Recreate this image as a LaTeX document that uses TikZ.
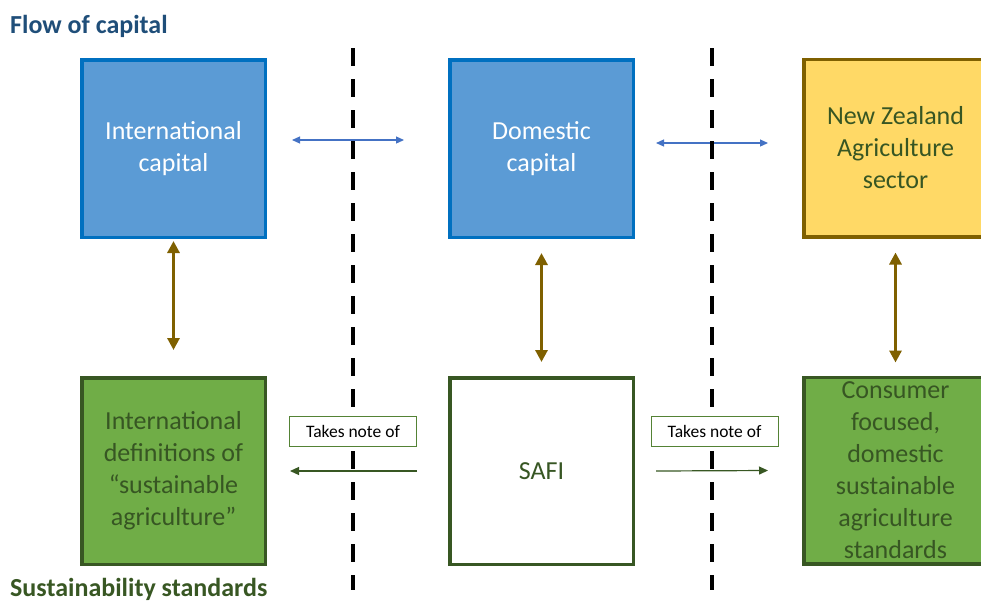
\documentclass[tikz,border=0pt]{standalone}
\usepackage{fontspec}
\setmainfont{Carlito}
\usetikzlibrary{arrows.meta,calc}
\definecolor{bluefill}{HTML}{5B9BD5}
\definecolor{blueline}{HTML}{0070C0}
\definecolor{yellowfill}{HTML}{FFD966}
\definecolor{brownline}{HTML}{7F6000}
\definecolor{greenfill}{HTML}{70AD47}
\definecolor{greenline}{HTML}{385723}
\definecolor{greentext}{HTML}{375623}
\definecolor{titleblue}{HTML}{1F4E79}
\definecolor{arrowblue}{HTML}{4472C4}
\definecolor{noteline}{HTML}{548235}
\tikzset{
  bigbox/.style={draw, line width=3.5pt, inner sep=0pt, minimum width=183.5pt, align=center, font=\fontsize{26}{32}\selectfont},
  topbox/.style={bigbox, minimum height=177.5pt},
  botbox/.style={bigbox, minimum height=186.5pt},
  bluebox/.style={topbox, fill=bluefill, draw=blueline, text=white},
  yellowbox/.style={topbox, fill=yellowfill, draw=brownline, text=greentext},
  greenbox/.style={botbox, fill=greenfill, draw=greenline, text=greentext},
  whitebox/.style={botbox, fill=white, draw=greenline, text=greentext},
  notebox/.style={draw=noteline, line width=0.9pt, fill=white, minimum width=127pt, minimum height=30pt, inner sep=0pt, font=\fontsize{17.5}{20}\selectfont},
  bluearrow/.style={draw=arrowblue, line width=1.2pt, {Triangle[length=8pt,width=7pt]}-{Triangle[length=8pt,width=7pt]}},
  brownarrow/.style={draw=brownline, line width=3.5pt, {Triangle[length=12pt,width=12pt]}-{Triangle[length=12pt,width=12pt]}},
  greenarrow/.style={draw=greenline, line width=1.2pt, -{Triangle[length=9pt,width=8pt]}},
  divider/.style={draw=black, line width=4pt, dash pattern=on 17.7pt off 13.3pt},
  titletext/.style={font=\fontsize{26}{30}\selectfont\bfseries, inner sep=0pt}
}
\begin{document}
\begin{tikzpicture}[x=1pt,y=-1pt]
\useasboundingbox (0,0) rectangle (981,603);
\clip (0,0) rectangle (981,603);
% boxes
\node[bluebox] (ic) at (173.5,148.5) {International\\capital};
\node[bluebox] (dc) at (541.5,148.5) {Domestic\\capital};
\node[yellowbox] (nz) at (895.5,148) {New Zealand\\Agriculture\\sector};
\node[greenbox] (idef) at (173.5,471) {International\\definitions of\\“sustainable\\agriculture”};
\node[whitebox] (safi) at (541.5,471) {SAFI};
\node[greenbox] (cons) at (895.5,470.5) {Consumer\\focused,\\domestic\\sustainable\\agriculture\\standards};
% titles
\node[titletext, text=titleblue, anchor=base west] (t1) at (10,33) {Flow of capital};
\node[titletext, text=greenline, anchor=base west] (t2) at (10,596) {Sustainability standards};
% arrows
\draw[bluearrow] ($(ic.east)+(25,-8.5)$) -- ($(dc.west)+(-44,-8.5)$);
\draw[bluearrow] ($(dc.east)+(21,-5.5)$) -- ($(nz.west)+(-34,-5)$);
\draw[brownarrow] ([yshift=-2pt]ic.south) -- ([yshift=26pt]idef.north);
\draw[brownarrow] ([yshift=-14pt]dc.south) -- ([yshift=14pt]safi.north);
\draw[brownarrow] ([yshift=-14pt]nz.south) -- ([yshift=13pt]cons.north);
\draw[greenarrow] ($(safi.west)+(-31,0)$) -- ($(idef.east)+(23,0)$);
\draw[greenarrow] ($(safi.east)+(21,0)$) -- ($(cons.west)+(-34,0)$);
% dividers
\coordinate (d1a) at (353,48.3);
\coordinate (d1b) at (353,590);
\coordinate (d2a) at (712,48.3);
\coordinate (d2b) at (712,590);
\draw[divider] (d1a) -- (d1b);
\draw[divider] (d2a) -- (d2b);
% notes
\node[notebox] (n1) at (353,431.5) {Takes note of};
\node[notebox] (n2) at (714.5,431.5) {Takes note of};
\end{tikzpicture}
\end{document}
